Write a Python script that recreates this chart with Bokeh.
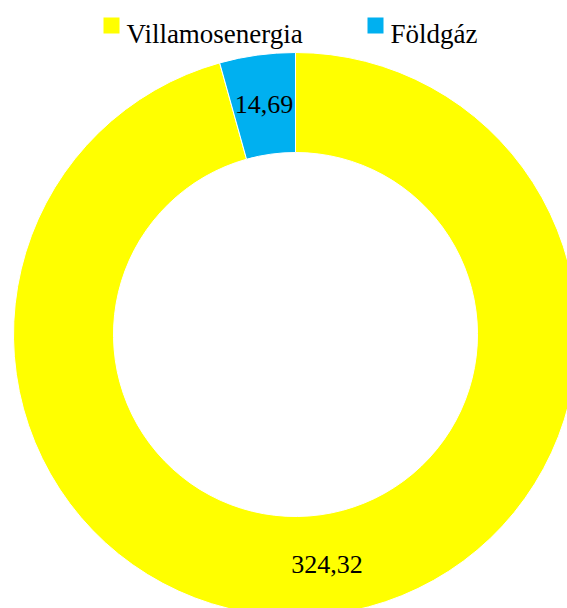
import math
from bokeh.plotting import figure
from bokeh.models import Range1d, ColumnDataSource
from bokeh.core.properties import value
from bokeh.embed import file_html
from bokeh.resources import INLINE

categories = ["Villamosenergia", "Földgáz"]
values = [324.32, 14.69]
colors = ["#FFFF00", "#00B0F0"]

FONT = "Liberation Serif"

W, H = 567, 608
p = figure(width=W, height=H, output_backend="svg", toolbar_location=None,
           x_range=Range1d(0, W), y_range=Range1d(-H, 0),
           min_border=0, outline_line_color=None)
p.axis.visible = False
p.grid.visible = False
p.background_fill_color = "white"
p.border_fill_color = "white"

cx, cy = 295, -334
r_out, r_in = 282, 182

total = sum(values)
# slices go clockwise from 12 o'clock: first category first
starts, ends, mids = [], [], []
acc = 0.0
for v in values:
    a0 = math.pi / 2 - 2 * math.pi * acc / total
    acc += v
    a1 = math.pi / 2 - 2 * math.pi * acc / total
    starts.append(a1)
    ends.append(a0)
    mids.append((a0 + a1) / 2)

src = ColumnDataSource(dict(start=starts, end=ends, color=colors, cat=categories))
p.annular_wedge(x=cx, y=cy, inner_radius=r_in, outer_radius=r_out,
                start_angle="start", end_angle="end", direction="anticlock",
                fill_color="color", line_color="white", line_width=1, source=src)

# data labels at ring middle
r_mid = (r_in + r_out) / 2
lx = [cx + r_mid * math.cos(m) for m in mids]
ly = [cy + r_mid * math.sin(m) for m in mids]
labels = [f"{v:.2f}".replace(".", ",") for v in values]
p.text(x=lx, y=ly, text=labels, text_align="center", text_baseline="middle",
       text_font=value(FONT), text_font_size="26px", text_color="black")

# legend
sq_x = [111, 375]
sq_y = [-25, -25]
p.rect(x=sq_x, y=sq_y, width=16, height=16, fill_color=colors, line_color=None)
p.text(x=[x + 15 for x in sq_x], y=[-33, -33], text=categories,
       text_align="left", text_baseline="alphabetic",
       text_font=value(FONT), text_font_size="27px", text_color="black")

open("out.html", "w").write(file_html(p, INLINE))
